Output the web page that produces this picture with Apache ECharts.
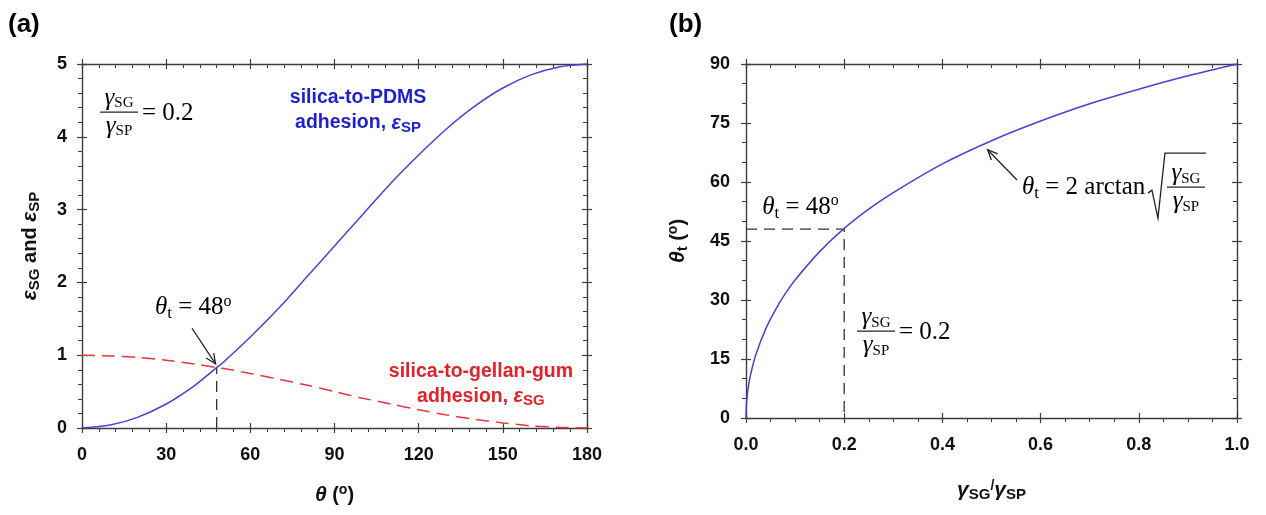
<!DOCTYPE html>
<html>
<head>
<meta charset="utf-8">
<script src="https://cdn.jsdelivr.net/npm/echarts@6/dist/echarts.min.js"></script>
<style>
  html, body { margin: 0; padding: 0; background: #fff; }
  #main { width: 1266px; height: 515px; }
</style>
</head>
<body>
<div id="main"></div>
<script>
// ---- Panel (a): adhesion energies versus contact angle theta (degrees) ----
const thetaDeg = [0, 10, 20, 30, 40, 48, 50, 60, 70, 80, 90, 100, 110, 120, 130, 140, 150, 160, 170, 180];
const epsSP    = [0, 0.04, 0.15, 0.33, 0.58, 0.83, 0.89, 1.25, 1.64, 2.07, 2.50, 2.93, 3.36, 3.75, 4.11, 4.42, 4.67, 4.85, 4.96, 5.00];
const epsSG    = [1.00, 0.99, 0.97, 0.93, 0.88, 0.83, 0.82, 0.75, 0.67, 0.59, 0.50, 0.41, 0.33, 0.25, 0.18, 0.12, 0.07, 0.03, 0.01, 0];
const thetaXTicks = [0, 30, 60, 90, 120, 150, 180];
const epsYTicks   = [0, 1, 2, 3, 4, 5];

// ---- Panel (b): transition angle versus surface energy ratio ----
const ratio  = [0, 0.001, 0.003, 0.006, 0.01, 0.02, 0.04, 0.06, 0.08, 0.10, 0.15, 0.20, 0.25, 0.30, 0.40, 0.50, 0.60, 0.70, 0.80, 0.90, 1.00];
const thetaT = [0, 3.6, 6.3, 8.9, 11.4, 16.1, 22.6, 27.5, 31.6, 35.1, 42.3, 48.2, 53.1, 57.3, 64.6, 70.5, 75.5, 79.9, 83.6, 87.0, 90.0];
const ratioXTicks  = [0, 0.2, 0.4, 0.6, 0.8, 1.0];
const thetaYTicks  = [0, 15, 30, 45, 60, 75, 90];

// transition point shared by both panels
const transitionAngle = 48;
const transitionEps = 0.83;
const transitionRatio = 0.2;

const SANS = '"Liberation Sans", Arial, sans-serif';
const SERIF = '"Liberation Serif", "Times New Roman", serif';
const AXIS_COLOR = '#3c3c3c';
const BLUE_LINE = '#4444d6';
const RED_LINE = '#e8363c';
const BLUE_TEXT = '#1f1fcf';
const RED_TEXT = '#e2212b';

const zip = (xs, ys) => xs.map((x, i) => [x, ys[i]]);
const step = t => t[1] - t[0];

// Builds the four frame axes (main + mirrored, each with crossing major ticks)
function frameAxes(dim, gridIndex, ticks, minorSplit, labelFmt, name, nameGap, labelMargin) {
  const min = ticks[0], max = ticks[ticks.length - 1], interval = step(ticks);
  const base = {
    type: 'value', gridIndex, min, max, interval,
    splitLine: { show: false },
    axisLine: { show: true, onZero: false, lineStyle: { color: AXIS_COLOR, width: 1.4 } },
  };
  const posA = dim === 'x' ? 'bottom' : 'left';
  const posB = dim === 'x' ? 'top' : 'right';
  const main = Object.assign({}, base, {
    position: posA,
    axisTick: { show: true, inside: false, length: 5, lineStyle: { color: AXIS_COLOR, width: 1.2 } },
    minorTick: { show: true, splitNumber: minorSplit, length: 4, lineStyle: { color: AXIS_COLOR, width: 1 } },
    axisLabel: {
      show: true, margin: labelMargin, formatter: labelFmt,
      fontFamily: SANS, fontWeight: 'bold', fontSize: 18, color: '#111'
    },
    name: name.text, nameLocation: 'middle', nameGap,
    nameRotate: dim === 'y' ? 90 : 0,
    nameTextStyle: name.style
  });
  const mainInner = Object.assign({}, base, {
    position: posA,
    axisLine: { show: false, onZero: false },
    axisTick: { show: true, inside: true, length: 5, lineStyle: { color: AXIS_COLOR, width: 1.2 } },
    axisLabel: { show: false }
  });
  const mirror = Object.assign({}, base, {
    position: posB,
    axisTick: { show: true, inside: true, length: 5, lineStyle: { color: AXIS_COLOR, width: 1.2 } },
    minorTick: { show: true, splitNumber: minorSplit, length: 4, lineStyle: { color: AXIS_COLOR, width: 1 } },
    axisLabel: { show: false }
  });
  const mirrorOuter = Object.assign({}, base, {
    position: posB,
    axisLine: { show: false, onZero: false },
    axisTick: { show: true, inside: false, length: 5, lineStyle: { color: AXIS_COLOR, width: 1.2 } },
    axisLabel: { show: false }
  });
  return [main, mainInner, mirror, mirrorOuter];
}

const nameRich = {
  i: { fontFamily: SANS, fontWeight: 'bold', fontStyle: 'italic', fontSize: 21, color: '#111' },
  n: { fontFamily: SANS, fontWeight: 'bold', fontSize: 20, color: '#111' },
  s: { fontFamily: SANS, fontWeight: 'bold', fontSize: 15, color: '#111', padding: [9, 0, 0, 0] },
  u: { fontFamily: SANS, fontWeight: 'bold', fontSize: 14, color: '#111', padding: [0, 0, 10, 0] },
  p: { fontFamily: SANS, fontWeight: 'bold', fontSize: 14, color: '#111', padding: [0, 0, 8, 0] }
};

const xA = frameAxes('x', 0, thetaXTicks, 5, v => String(v),
  { text: '{i|θ}{n| (}{u|o}{n|)}', style: { rich: nameRich } }, 55, 18);
const yA = frameAxes('y', 0, epsYTicks, 5, v => String(v),
  { text: '{i|ε}{s|SG}{n| and }{i|ε}{s|SP}', style: { rich: nameRich } }, 40, 15);
const xB = frameAxes('x', 1, ratioXTicks, 4, v => v.toFixed(1),
  { text: '{i|γ}{s|SG}{p|/}{i|γ}{s|SP}', style: { rich: nameRich } }, 60, 18);
const yB = frameAxes('y', 1, thetaYTicks, 3, v => String(v),
  { text: '{i|θ}{s|t}{n| (}{u|o}{n|)}', style: { rich: nameRich } }, 56, 16);

const guideStyle = { color: '#333', width: 1.3, type: [11, 7] };

const option = {
  animation: false,
  backgroundColor: '#fff',
  grid: [
    { left: 82, top: 64, width: 505, height: 364 },
    { left: 746, top: 64, width: 491, height: 354 }
  ],
  xAxis: [...xA, ...xB],
  yAxis: [...yA, ...yB],
  series: [
    {
      name: 'silica-to-PDMS', type: 'line', xAxisIndex: 0, yAxisIndex: 0,
      data: zip(thetaDeg, epsSP), showSymbol: false, smooth: 0.3,
      lineStyle: { color: BLUE_LINE, width: 1.5 }, z: 5
    },
    {
      name: 'silica-to-gellan-gum', type: 'line', xAxisIndex: 0, yAxisIndex: 0,
      data: zip(thetaDeg, epsSG), showSymbol: false, smooth: 0.3,
      lineStyle: { color: RED_LINE, width: 1.5, type: [13, 7] }, z: 4
    },
    {
      name: 'transition (a)', type: 'line', xAxisIndex: 0, yAxisIndex: 0,
      data: [[transitionAngle, 0], [transitionAngle, transitionEps]],
      showSymbol: false, lineStyle: guideStyle, z: 3
    },
    {
      name: 'theta_t', type: 'line', xAxisIndex: 4, yAxisIndex: 4,
      data: zip(ratio, thetaT), showSymbol: false, smooth: 0.3,
      lineStyle: { color: BLUE_LINE, width: 1.5 }, z: 5
    },
    {
      name: 'transition (b)', type: 'line', xAxisIndex: 4, yAxisIndex: 4,
      data: [[0, transitionAngle], [transitionRatio, transitionAngle], [transitionRatio, 0]],
      showSymbol: false, lineStyle: guideStyle, z: 3
    }
  ]
};

const chart = echarts.init(document.getElementById('main'), null, { renderer: 'canvas' });
chart.setOption(option);

// ---- annotations, anchored in data space of each panel ----
const pa = p => chart.convertToPixel({ xAxisIndex: 0, yAxisIndex: 0 }, p);
const pb = p => chart.convertToPixel({ xAxisIndex: 4, yAxisIndex: 4 }, p);

const serifRich = {
  g: { fontFamily: SERIF, fontStyle: 'italic', fontSize: 25, color: '#222' },
  r: { fontFamily: SERIF, fontSize: 25, color: '#222' },
  s: { fontFamily: SERIF, fontSize: 15, color: '#222', padding: [10, 0, 0, 0] },
  t: { fontFamily: SERIF, fontSize: 17, color: '#222', padding: [12, 0, 0, 0] },
  u: { fontFamily: SERIF, fontSize: 16, color: '#222', padding: [0, 0, 12, 0] }
};

function txt(x, y, text, style) {
  return { type: 'text', x, y, silent: true, z: 100, style: Object.assign({ text }, style) };
}

// stacked gamma_SG over gamma_SP with a fraction bar, optionally followed by a tail
function fraction(left, barY, width, tail) {
  const els = [
    txt(left + width / 2, barY - 1, '{g|γ}{s|SG}', { align: 'center', verticalAlign: 'bottom', rich: serifRich }),
    { type: 'line', silent: true, z: 100, shape: { x1: left, y1: barY, x2: left + width, y2: barY },
      style: { stroke: '#222', lineWidth: 1.2 } },
    txt(left + width / 2, barY + 2, '{g|γ}{s|SP}', { align: 'center', verticalAlign: 'top', rich: serifRich })
  ];
  if (tail) {
    els.push(txt(left + width + 4, barY + 1, '{r|' + tail + '}', { align: 'left', verticalAlign: 'middle', rich: serifRich }));
  }
  return els;
}

// straight arrow with an open "V" head
function arrow(from, to) {
  const ang = Math.atan2(to[1] - from[1], to[0] - from[0]);
  const L = 11, spread = 0.42;
  const h1 = [to[0] - L * Math.cos(ang - spread), to[1] - L * Math.sin(ang - spread)];
  const h2 = [to[0] - L * Math.cos(ang + spread), to[1] - L * Math.sin(ang + spread)];
  return [
    { type: 'line', silent: true, z: 100, shape: { x1: from[0], y1: from[1], x2: to[0], y2: to[1] },
      style: { stroke: '#222', lineWidth: 1.3 } },
    { type: 'polyline', silent: true, z: 100, shape: { points: [h1, to, h2] },
      style: { stroke: '#222', lineWidth: 1.3, fill: null } }
  ];
}

function curveLabel(pos, line1, sub, color) {
  return txt(pos[0], pos[1], line1 + '\n{n|adhesion, }{i|ε}{s|' + sub + '}', {
    align: 'center', verticalAlign: 'middle', fill: color, font: 'bold 19.5px ' + SANS, lineHeight: 25,
    rich: {
      n: { fontFamily: SANS, fontWeight: 'bold', fontSize: 19.5, color },
      i: { fontFamily: SANS, fontWeight: 'bold', fontStyle: 'italic', fontSize: 20, color },
      s: { fontFamily: SANS, fontWeight: 'bold', fontSize: 15, color, padding: [9, 0, 0, 0] }
    }
  });
}

const graphics = [];

// panel tags
graphics.push(txt(8, 25, '(a)', { font: 'bold 26px ' + SANS, fill: '#000', verticalAlign: 'middle' }));
graphics.push(txt(669, 25, '(b)', { font: 'bold 26px ' + SANS, fill: '#000', verticalAlign: 'middle' }));

// panel (a)
{
  const f = pa([6.4, 4.34]);
  graphics.push(...fraction(f[0], f[1], 38, '= 0.2'));

  graphics.push(curveLabel(pa([98.4, 4.36]), 'silica-to-PDMS', 'SP', BLUE_TEXT));
  graphics.push(curveLabel(pa([142.2, 0.60]), 'silica-to-gellan-gum', 'SG', RED_TEXT));

  const tl = pa([26, 1.65]);
  graphics.push(txt(tl[0], tl[1], '{g|θ}{t|t}{r| = ' + transitionAngle + '}{u|o}', {
    align: 'left', verticalAlign: 'middle', rich: serifRich
  }));
  graphics.push(...arrow(pa([39.2, 1.37]), pa([47.6, 0.88])));
}

// panel (b)
{
  const tl = pb([0.033, 53.6]);
  graphics.push(txt(tl[0], tl[1], '{g|θ}{t|t}{r| = ' + transitionAngle + '}{u|o}', {
    align: 'left', verticalAlign: 'middle', rich: serifRich
  }));

  const f = pb([0.226, 22.1]);
  graphics.push(...fraction(f[0], f[1], 38, '= 0.2'));

  // theta_t = 2 arctan sqrt(gSG / gSP)
  const e = pb([0.562, 58.7]);
  graphics.push(txt(e[0], e[1], '{g|θ}{t|t}{r| = 2 arctan}', { align: 'left', verticalAlign: 'middle', rich: serifRich }));
  const sx = e[0] + 126, sy = e[1];
  graphics.push({
    type: 'polyline', silent: true, z: 100,
    shape: { points: [[sx, sy + 6], [sx + 4, sy + 3], [sx + 10, sy + 31], [sx + 17, sy - 34], [sx + 58, sy - 34]] },
    style: { stroke: '#222', lineWidth: 1.3, fill: null }
  });
  graphics.push(...fraction(sx + 19, sy, 38, null));
  graphics.push(...arrow(pb([0.552, 60.5]), pb([0.492, 68.2])));
}

chart.setOption({ graphic: graphics });
</script>
</body>
</html>
